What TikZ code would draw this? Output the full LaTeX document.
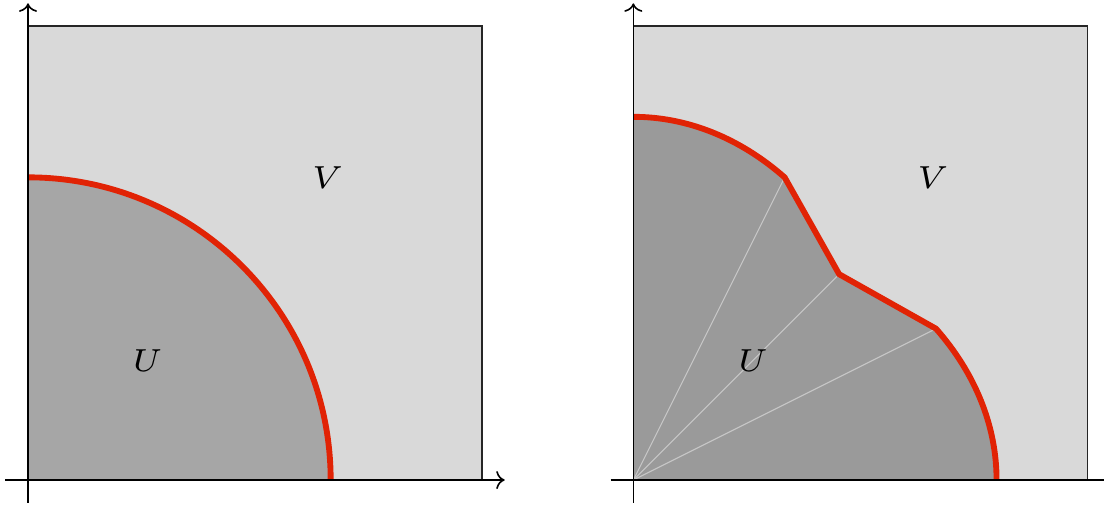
\documentclass[tikz,border=0pt]{standalone}
\usetikzlibrary{arrows.meta}
\definecolor{sqfill}{gray}{0.851}
\definecolor{uleft}{gray}{0.65}
\definecolor{uright}{gray}{0.604}
\definecolor{redline}{RGB}{225,35,5}
\tikzset{
  axisline/.style={line width=0.3pt,black},
  axisarrow/.style={axisline,-{To[length=1.6pt,width=3.4pt]}},
  squarebox/.style={fill=sqfill,draw=black!85,line width=0.3pt},
  boundary/.style={draw=redline,line width=1.1pt},
  ray/.style={draw=white!78!black,line width=0.2pt},
  lbl/.style={font=\fontsize{6.4}{8}\selectfont}
}
\begin{document}
\begin{tikzpicture}
\useasboundingbox (-0.185,-0.159) rectangle (7.110,3.172);
% ---------- left panel ----------
\begin{scope}
  \filldraw[squarebox] (0,0) rectangle (3,3);
  \fill[uleft] (0,0) -- (2,0) arc[start angle=0,end angle=90,radius=2] -- cycle;
  \draw[boundary] (2,0) arc[start angle=0,end angle=90,radius=2];
  \draw[axisarrow] (-0.15,0) -- (3.15,0);
  \draw[axisarrow] (0,-0.15) -- (0,3.15);
  \node[lbl] (V1) at (1.98,2.0) {$V$};
  \node[lbl] (U1) at (0.79,0.79) {$U$};
\end{scope}
% ---------- right panel ----------
\begin{scope}[xshift=4cm]
  \coordinate (O) at (0,0);
  \coordinate (T) at (0,2.4);
  \coordinate (A) at (1,2);
  \coordinate (B) at (1.36,1.36);
  \coordinate (C) at (2,1);
  \coordinate (R) at (2.4,0);
  \coordinate (E) at (3.3,0);
  \coordinate (W) at (-0.15,0);
  \filldraw[squarebox] (0,0) rectangle (3,3);
  \fill[uright] (O) -- (T)
     arc[start angle=90,end angle=56.44,x radius=1.809,y radius=2.4]
     -- (B) -- (C)
     arc[start angle=33.56,end angle=0,x radius=2.4,y radius=1.809] -- cycle;
  \draw[ray] (O) -- (A);
  \draw[ray] (O) -- (B);
  \draw[ray] (O) -- (C);
  \draw[boundary] (T)
     arc[start angle=90,end angle=56.44,x radius=1.809,y radius=2.4]
     -- (B) -- (C)
     arc[start angle=33.56,end angle=0,x radius=2.4,y radius=1.809];
  \draw[axisline] (W) -- (E);
  \draw[axisarrow] (0,-0.15) -- (0,3.15);
  \node[lbl] (V2) at (1.98,2.0) {$V$};
  \node[lbl] (U2) at (0.79,0.79) {$U$};
\end{scope}
\end{tikzpicture}
\end{document}
